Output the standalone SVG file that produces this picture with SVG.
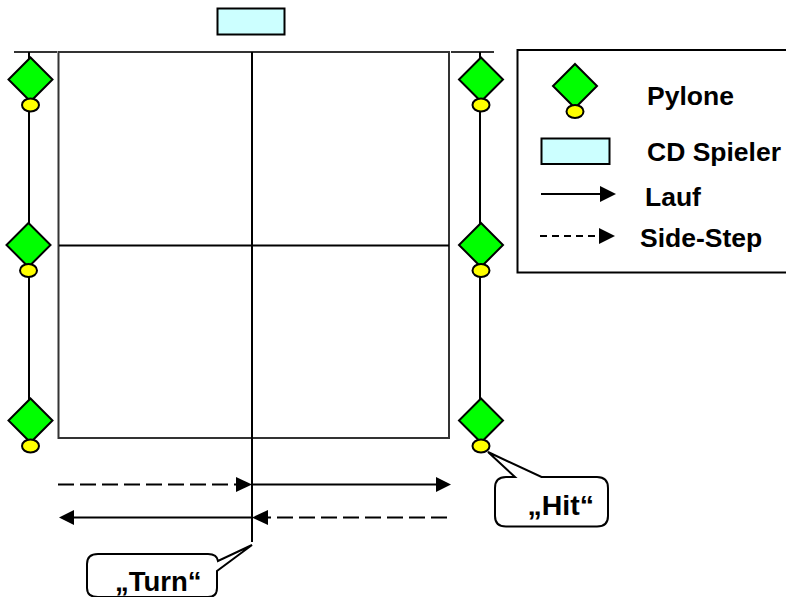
<svg xmlns="http://www.w3.org/2000/svg" width="786" height="597" viewBox="0 0 786 597">
<style>
.l{stroke:#000;stroke-width:2;fill:none}
.g{stroke:#333;stroke-width:2;fill:none}
.d{stroke:#000;stroke-width:2;fill:none;stroke-dasharray:16 6}
.s{stroke:#000;stroke-width:2;fill:none;stroke-dasharray:7 5}
.t{font-family:"Liberation Sans",Arial,sans-serif;font-weight:bold;font-size:26.500px;fill:#000}
.a{fill:#000}
.dia{fill:#00ff00;stroke:#000;stroke-width:2}
.ell{fill:#ffff00;stroke:#000;stroke-width:2}
.cb{fill:#fff;stroke:#000;stroke-width:2}
.cd{fill:#ccffff;stroke:#000;stroke-width:2}
</style>
<defs>
<g id="py"><polygon class="dia" points="0,-22 22,0 0,22 -22,0"/><ellipse class="ell" cx="0" cy="25.500" rx="8.500" ry="6.500"/></g>
</defs>
<g id="connectors">
<path class="g" d="M14 52H57M58 52H449M451 52H494"/>
<path class="l" d="M29 52V410M480 52V410"/>
<rect class="g" x="58.500" y="52" width="390.500" height="386"/>
<path class="l" d="M252 52V542M59 245.500H449"/>
<path class="d" d="M58 484.500H238"/><polygon class="a" points="236,477 252,484.500 236,492"/>
<path class="l" d="M252 484.500H440"/><polygon class="a" points="436,477 451,484.500 436,492"/>
<path class="l" d="M72 517.500H252"/><polygon class="a" points="74,510 59,517.500 74,525"/>
<path class="d" d="M447 517.500H266"/><polygon class="a" points="268,510 252,517.500 268,525"/>
</g>
<g id="cd-player"><rect class="cd" x="217.500" y="8.500" width="67" height="26"/></g>
<g id="pylon-left-1"><use href="#py" x="30.500" y="79.500"/></g>
<g id="pylon-left-2"><use href="#py" x="28.500" y="245"/></g>
<g id="pylon-left-3"><use href="#py" x="30.500" y="420.500"/></g>
<g id="pylon-right-1"><use href="#py" x="481" y="79.500"/></g>
<g id="pylon-right-2"><use href="#py" x="481" y="245"/></g>
<g id="pylon-right-3"><use href="#py" x="481" y="420.500"/></g>
<g id="legend">
<rect class="cb" x="517.500" y="50" width="280" height="222.500"/>
<use href="#py" x="575" y="86"/>
<text class="t" x="647" y="105">Pylone</text>
<rect class="cd" x="541.500" y="138.500" width="68" height="25.500"/>
<text class="t" x="647" y="161">CD Spieler</text>
<path class="l" d="M541 194H602"/><polygon class="a" points="600,186 616,194 600,202"/>
<text class="t" x="645" y="206">Lauf</text>
<path class="s" d="M540 236H598"/><polygon class="a" points="599,228 615,236 599,244"/>
<text class="t" x="640" y="247">Side-Step</text>
</g>
<g id="callout-hit">
<path class="cb" d="M488 452L541.500 477H597Q608 477 608 488V516Q608 526.500 597 526.500H506Q495 526.500 495 516V488Q495 477 506 477H515Z"/>
<text class="t" x="527.500" y="515" style="font-size:28.500px">„Hit“</text>
</g>
<g id="callout-turn">
<path class="cb" d="M252 545L218 561Q217 554 208 554H98Q87 554 87 564V588Q87 597 98 597H208Q217 597 217 588V571Z"/>
<text class="t" x="115" y="591" style="font-size:27.500px">„Turn“</text>
</g>
</svg>
